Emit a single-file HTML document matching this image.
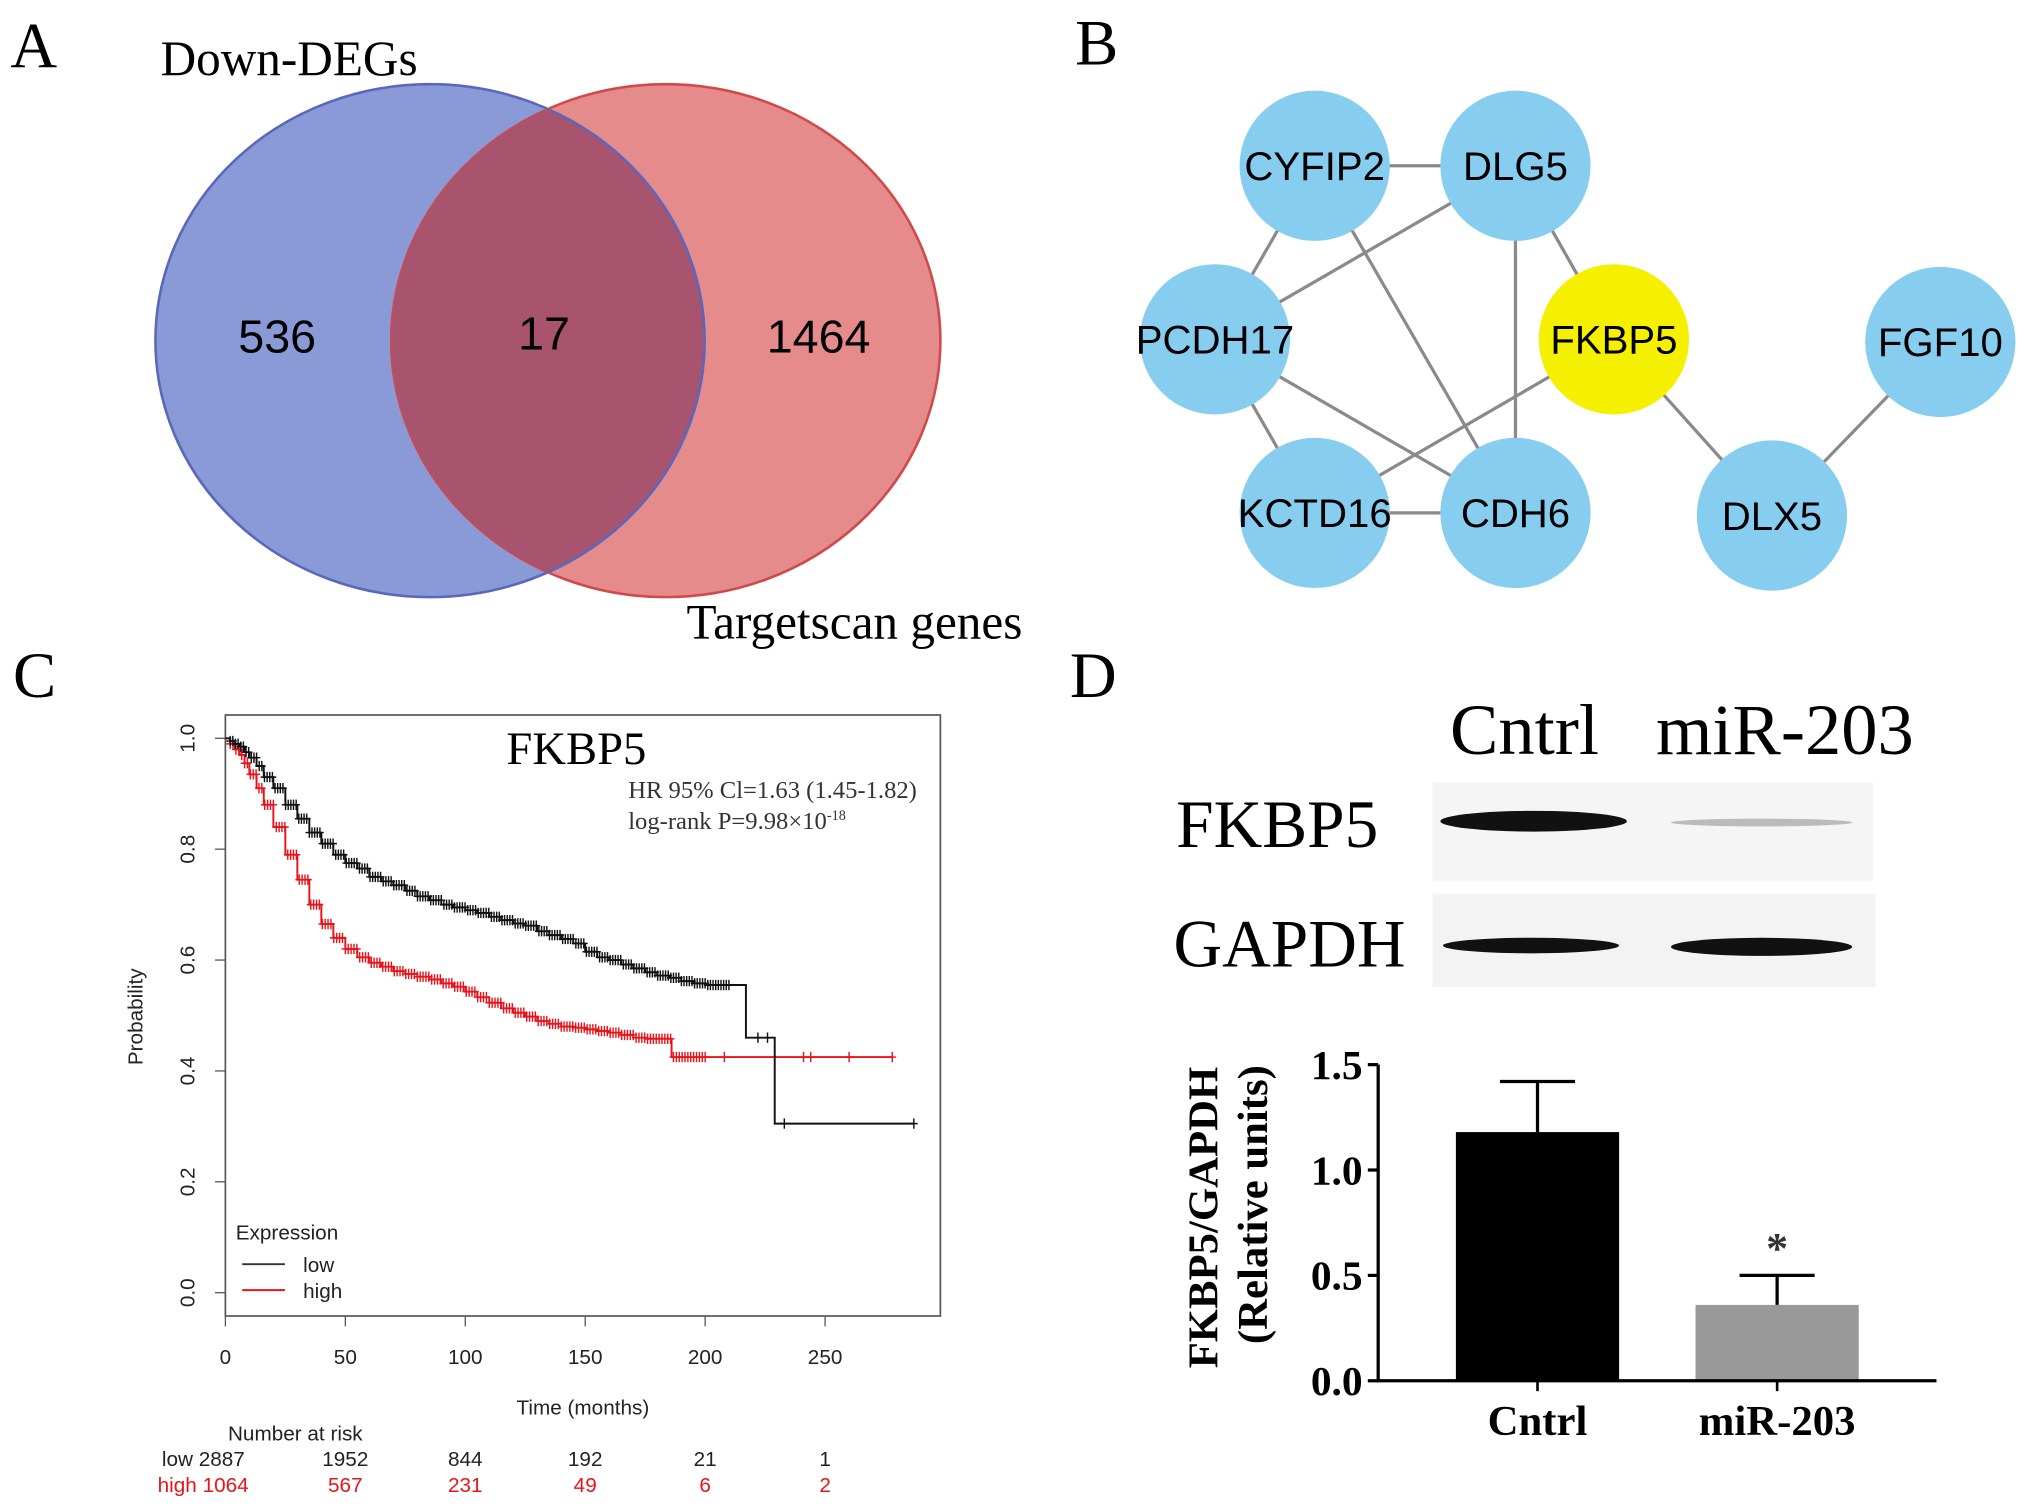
<!DOCTYPE html>
<html><head><meta charset="utf-8"><style>
html,body{margin:0;padding:0;background:#fff;}
svg{display:block;}
.serif{font-family:"Liberation Serif",serif;}
.sans{font-family:"Liberation Sans",sans-serif;}
</style></head><body>
<svg id="fig" width="2031" height="1509" viewBox="0 0 1568 1165" preserveAspectRatio="none" xmlns="http://www.w3.org/2000/svg">
<defs>
<clipPath id="clipRed"><ellipse cx="514" cy="263" rx="212" ry="198"/></clipPath>
</defs>
<g>
<text x="8" y="52" class="serif" font-size="50">A</text>
<ellipse cx="332" cy="263" rx="212" ry="198" fill="#8a9ad6" stroke="#5b67bb" stroke-width="2"/>
<ellipse cx="514" cy="263" rx="212" ry="198" fill="#e68b8b" stroke="#d04a4a" stroke-width="2"/>
<ellipse cx="332" cy="263" rx="212" ry="198" fill="#a8546f" clip-path="url(#clipRed)"/>
<ellipse cx="332" cy="263" rx="212" ry="198" fill="none" stroke="#5b67bb" stroke-width="2" clip-path="url(#clipRed)"/>
<text x="214" y="272" text-anchor="middle" class="sans" font-size="36">536</text>
<text x="420" y="270" text-anchor="middle" class="sans" font-size="36">17</text>
<text x="632" y="272" text-anchor="middle" class="sans" font-size="36">1464</text>
<text x="124" y="58" class="serif" font-size="38">Down-DEGs</text>
<text x="530" y="493" class="serif" font-size="38">Targetscan genes</text>
</g>
<g id="network">
<text x="830" y="50" class="serif" font-size="50">B</text>
</g>
<g id="km">
<text x="10" y="538" class="serif" font-size="50">C</text>
</g>
<g>
<text x="826" y="538" class="serif" font-size="50">D</text>
<text x="1177" y="582" text-anchor="middle" class="serif" font-size="56">Cntrl</text>
<text x="1378" y="582" text-anchor="middle" class="serif" font-size="56">miR-203</text>
<rect x="1106" y="604" width="340" height="76" fill="#f5f5f5"/>
<rect x="1106" y="690" width="342" height="72" fill="#f3f3f3"/>
<text x="908" y="654" class="serif" font-size="52">FKBP5</text>
<text x="906" y="746" class="serif" font-size="52">GAPDH</text>
<ellipse cx="1184" cy="634" rx="72" ry="8" fill="#111"/>
<ellipse cx="1360" cy="635" rx="70" ry="3" fill="#bbb"/>
<ellipse cx="1182" cy="730" rx="68" ry="6" fill="#111"/>
<ellipse cx="1360" cy="731" rx="70" ry="7" fill="#111"/>
</g>
<g id="bar"></g>
</svg>
<script>
const NS='http://www.w3.org/2000/svg';
function mk(parent,tag,attrs,text){const e=document.createElementNS(NS,tag);for(const k in attrs)e.setAttribute(k,attrs[k]);if(text!==undefined)e.textContent=text;parent.appendChild(e);return e;}

const nodeNames=['CYFIP2','DLG5','PCDH17','FKBP5','FGF10','KCTD16','CDH6','DLX5'];
const nodeX=[1015,1170,938,1246,1498,1015,1170,1368];
const nodeY=[128,128,262,262,264,396,396,398];
const edgeFrom=['CYFIP2','CYFIP2','CYFIP2','DLG5','DLG5','DLG5','PCDH17','PCDH17','FKBP5','KCTD16','FKBP5','DLX5'];
const edgeTo=['DLG5','PCDH17','CDH6','PCDH17','FKBP5','CDH6','KCTD16','CDH6','KCTD16','CDH6','DLX5','FGF10'];
const net=document.getElementById('network');
for(let i=0;i<edgeFrom.length;i++){
  const a=nodeNames.indexOf(edgeFrom[i]),b=nodeNames.indexOf(edgeTo[i]);
  const l=mk(net,'line',{x1:nodeX[a],y1:nodeY[a],x2:nodeX[b],y2:nodeY[b],stroke:'#8a8a8a','stroke-width':2.5});
  
  
}
for(let i=0;i<nodeNames.length;i++){
  const c=mk(net,'circle',{cx:nodeX[i],cy:nodeY[i],r:58,fill:nodeNames[i]==='FKBP5'?'#f5f000':'#87cdef'});
  
  
  const t=mk(net,'text',{x:nodeX[i],y:nodeY[i]+11,'text-anchor':'middle','font-family':'Liberation Sans, sans-serif','font-size':31},nodeNames[i]);
  
  
}

// ---- KM plot ----
const lowT=[0,2,4,6,8,10,13,16,20,25,30,35,40,45,50,55,60,65,70,75,80,85,90,95,100,105,110,115,120,125,130,135,140,145,150,155,160,165,170,175,180,185,190,195,200,205,217,229,287];
const lowS=[1,0.995,0.99,0.985,0.975,0.965,0.95,0.93,0.91,0.88,0.855,0.83,0.81,0.79,0.775,0.765,0.75,0.742,0.735,0.725,0.715,0.708,0.70,0.695,0.69,0.685,0.678,0.672,0.666,0.662,0.652,0.645,0.638,0.63,0.615,0.605,0.60,0.592,0.585,0.578,0.572,0.568,0.562,0.558,0.555,0.555,0.46,0.305,0.305];
const highT=[0,2,4,6,8,10,13,16,20,25,30,35,40,45,50,55,60,65,70,75,80,85,90,95,100,105,110,115,120,125,130,135,140,145,150,155,160,165,170,175,186,278];
const highS=[1,0.99,0.98,0.97,0.955,0.935,0.91,0.88,0.84,0.79,0.745,0.70,0.665,0.64,0.62,0.605,0.595,0.588,0.58,0.575,0.57,0.565,0.558,0.552,0.543,0.533,0.523,0.513,0.505,0.498,0.49,0.485,0.48,0.478,0.475,0.472,0.469,0.465,0.46,0.458,0.425,0.425];
const xTicks=[0,50,100,150,200,250];
const yTicks=[0,0.2,0.4,0.6,0.8,1.0];
const riskLow=['1952','844','192','21','1'];
const riskHigh=['567','231','49','6','2'];
const lowCensor=[];const highCensor=[];
for(let t=2;t<=210;t+=1.1)lowCensor.push(t);
lowCensor.push(222,226,233,287);
for(let t=2;t<=200;t+=1.2)highCensor.push(t);
highCensor.push(208,241,244,260,278);
const kx=t=>174+t*1.852, ky=p=>998-p*428;
const km=document.getElementById('km');
let r=mk(km,'rect',{x:174,y:552,width:552,height:464,fill:'none',stroke:'#555','stroke-width':1.3});

xTicks.forEach(v=>{mk(km,'line',{x1:kx(v),y1:1016,x2:kx(v),y2:1024,stroke:'#555'});
 const t=mk(km,'text',{x:kx(v),y:1053,'text-anchor':'middle','font-family':'Liberation Sans, sans-serif','font-size':16,fill:'#222'},String(v));
 });
yTicks.forEach(v=>{mk(km,'line',{x1:166,y1:ky(v),x2:174,y2:ky(v),stroke:'#555'});
 const t=mk(km,'text',{x:0,y:0,'text-anchor':'middle','font-family':'Liberation Sans, sans-serif','font-size':16,fill:'#222',transform:`translate(150,${ky(v)}) rotate(-90)`},v.toFixed(1));
 });
function stepVal(T,S,t){let v=S[0];for(let i=0;i<T.length;i++){if(T[i]<=t)v=S[i];}return v;}
function drawCurve(T,S,cens,col,name){
 let d=`M${kx(T[0])},${ky(S[0])}`;
 for(let i=1;i<T.length;i++){d+=`H${kx(T[i])}V${ky(S[i])}`;}
 const p=mk(km,'path',{d:d,fill:'none',stroke:col,'stroke-width':1.5});
 
 let cd='';cens.forEach(t=>{const x=kx(t),y=ky(stepVal(T,S,t));cd+=`M${x},${y-4}V${y+4}M${x-3},${y}H${x+3}`;});
 const c=mk(km,'path',{d:cd,stroke:col,'stroke-width':1.1,fill:'none'});
 
}
drawCurve(highT,highS,highCensor,'#e8141b','high-expression');
drawCurve(lowT,lowS,lowCensor,'#111','low-expression');
function txt(p,x,y,s,attrs,name){const t=mk(p,'text',Object.assign({x:x,y:y},attrs),s);return t;}
const sans={'font-family':'Liberation Sans, sans-serif'};
txt(km,445,590,'FKBP5',{'text-anchor':'middle','font-family':'Liberation Serif, serif','font-size':36},'km-title');
txt(km,485,616,'HR 95% Cl=1.63 (1.45-1.82)',{'font-family':'Liberation Serif, serif','font-size':19,fill:'#333'},'hazard-ratio-text');
const lr=txt(km,485,640,'log-rank P=9.98×10',{'font-family':'Liberation Serif, serif','font-size':19,fill:'#333'},'logrank-text');
mk(lr,'tspan',{dy:-7,'font-size':11},'-18');
txt(km,182,957,'Expression',Object.assign({'font-size':16,fill:'#222'},sans),'legend-title');
mk(km,'line',{x1:187,y1:976,x2:220,y2:976,stroke:'#333','stroke-width':1.5});
mk(km,'line',{x1:187,y1:996,x2:220,y2:996,stroke:'#e8141b','stroke-width':1.5});
txt(km,234,982,'low',Object.assign({'font-size':16,fill:'#222'},sans),'legend-entry-low');
txt(km,234,1002,'high',Object.assign({'font-size':16,fill:'#222'},sans),'legend-entry-high');
txt(km,450,1092,'Time (months)',Object.assign({'text-anchor':'middle','font-size':16,fill:'#222'},sans),'x-axis-title');
txt(km,0,0,'Probability',Object.assign({'text-anchor':'middle','font-size':16,fill:'#222',transform:'translate(110,785) rotate(-90)'},sans),'y-axis-title');
txt(km,228,1112,'Number at risk',Object.assign({'text-anchor':'middle','font-size':16,fill:'#222'},sans),'risk-table-title');
txt(km,189,1132,'low 2887',Object.assign({'text-anchor':'end','font-size':16,fill:'#222'},sans),'risk-low-label');
txt(km,192,1152,'high 1064',Object.assign({'text-anchor':'end','font-size':16,fill:'#e8141b'},sans),'risk-high-label');
for(let i=0;i<riskLow.length;i++){
 txt(km,kx(xTicks[i+1]),1132,riskLow[i],Object.assign({'text-anchor':'middle','font-size':16,fill:'#222'},sans),'risk-low-'+xTicks[i+1]);
 txt(km,kx(xTicks[i+1]),1152,riskHigh[i],Object.assign({'text-anchor':'middle','font-size':16,fill:'#e8141b'},sans),'risk-high-'+xTicks[i+1]);
}

// ---- Bar chart ----
const barCats=['Cntrl','miR-203'];
const barVals=[1.18,0.36];
const barErr=[0.24,0.14];
const barTicks=[0.0,0.5,1.0,1.5];
const barCenters=[1187,1372];
const by=v=>1066-v*162.7;
const bar=document.getElementById('bar');
const serifB={'font-family':'Liberation Serif, serif','font-weight':'bold'};
for(let i=0;i<barCats.length;i++){
 const cx=barCenters[i];
 const rr=mk(bar,'rect',{x:cx-63,y:by(barVals[i]),width:126,height:by(0)-by(barVals[i]),fill:i===0?'#000':'#999'});
 
 const e=mk(bar,'path',{d:`M${cx},${by(barVals[i])}V${by(barVals[i]+barErr[i])}M${cx-29},${by(barVals[i]+barErr[i])}H${cx+29}`,stroke:'#000','stroke-width':2.5,fill:'none'});
 
 mk(bar,'line',{x1:cx,y1:1066,x2:cx,y2:1074,stroke:'#000','stroke-width':2});
 txt(bar,cx,1108,barCats[i],Object.assign({'text-anchor':'middle','font-size':33},serifB),'x-label-'+barCats[i].toLowerCase());
}
txt(bar,1372,975,'*',Object.assign({'text-anchor':'middle','font-size':34,fill:'#333'},serifB),'significance-star');
const ax=mk(bar,'path',{d:`M1064,${by(1.5)}V1066H1495`,stroke:'#000','stroke-width':2.5,fill:'none'});

barTicks.forEach(v=>{mk(bar,'line',{x1:1056,y1:by(v),x2:1064,y2:by(v),stroke:'#000','stroke-width':2.5});
 txt(bar,1052,by(v)+11,v.toFixed(1),Object.assign({'text-anchor':'end','font-size':32},serifB),'bar-y-tick-'+v.toFixed(1));});
txt(bar,0,0,'FKBP5/GAPDH',Object.assign({'text-anchor':'middle','font-size':33,transform:'translate(940,940) rotate(-90)'},serifB),'bar-y-title');
txt(bar,0,0,'(Relative units)',Object.assign({'text-anchor':'middle','font-size':33,transform:'translate(978,930) rotate(-90)'},serifB),'bar-y-subtitle');
</script>
</body></html>
